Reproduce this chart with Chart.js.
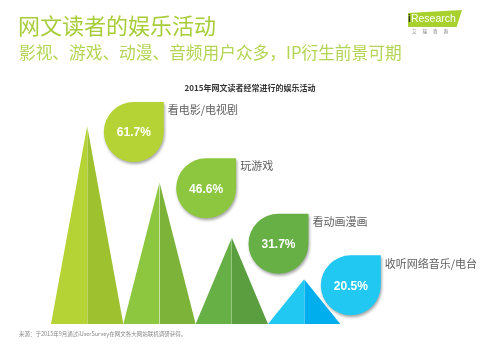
<!DOCTYPE html>
<html>
<head>
<meta charset="utf-8">
<script src="https://cdn.jsdelivr.net/npm/chart.js@4"></script>
<style>
  body { margin: 0; background: #fff; font-family: "Noto Sans CJK SC", "Liberation Sans", sans-serif; }
  #page { position: relative; width: 485px; height: 347px; overflow: hidden; }
  #chart { position: absolute; left: 0; top: 0; }
  .txt { position: absolute; white-space: nowrap; }
  #title { left: 18px; top: 13px; font-size: 22px; line-height: 22px; color: #a8cd3a; }
  #subtitle { left: 19px; top: 43px; font-size: 16.7px; line-height: 18px; color: #b3d455; }
  #chartTitle { left: 150px; width: 200px; top: 83px; text-align: center; font-size: 8px; line-height: 9px; font-weight: bold; color: #333; }
  #source { left: 19px; top: 331px; font-size: 5.5px; line-height: 6px; color: #888; }
  #logo { left: 408px; top: 10px; width: 54px; height: 17px; background: #a9d12e;
          clip-path: polygon(0 18%, 100% 0, 90% 100%, 0 100%); }
  #logoText { left: 408px; top: 12px; font-family: "Liberation Sans", sans-serif; font-size: 10.5px; line-height: 13px; color: #fff; }
  #logoText b { color: #333; font-weight: bold; }
  #logoCn { left: 412px; top: 29px; font-size: 4.5px; line-height: 5px; letter-spacing: 6px; color: #777; }
</style>
</head>
<body>
<div id="page">
  <canvas id="chart" width="485" height="347"></canvas>
  <div class="txt" id="title">网文读者的娱乐活动</div>
  <div class="txt" id="subtitle">影视、游戏、动漫、音频用户众多，IP衍生前景可期</div>
  <div class="txt" id="chartTitle">2015年网文读者经常进行的娱乐活动</div>
  <div class="txt" id="logo"></div>
  <div class="txt" id="logoText"><b>i</b>Research</div>
  <div class="txt" id="logoCn">艾瑞咨询</div>
  <div class="txt" id="source">来源：于2015年9月通过iUserSurvey在网文各大网站联机调研获得。</div>
</div>
<script>
// data
const categories = ['看电影/电视剧', '玩游戏', '看动画漫画', '收听网络音乐/电台'];
const shares = [61.7, 46.6, 31.7, 20.5];

const lightColors = ['#b5d334', '#8dc63f', '#66b046', '#20c8f2'];
const darkColors = ['#9ec12f', '#7db338', '#5a9e3f', '#00aeee'];

const Y_MIN = 8.5;
const Y_MAX = 68.7;

// each triangle is two filled halves, left light and right dark
let datasets = [];
shares.forEach((v, i) => {
  datasets.push({
    data: [{x: i - 0.5, y: Y_MIN}, {x: i, y: v}, {x: i, y: Y_MIN}],
    backgroundColor: lightColors[i],
    borderWidth: 0,
    pointRadius: 0,
    showLine: true,
    fill: 'start'
  });
  datasets.push({
    data: [{x: i, y: Y_MIN}, {x: i, y: v}, {x: i + 0.5, y: Y_MIN}],
    backgroundColor: darkColors[i],
    borderWidth: 0,
    pointRadius: 0,
    showLine: true,
    fill: 'start'
  });
});

// teardrop labels next to each triangle
const dropPlugin = {
  id: 'drops',
  afterDatasetsDraw(chart) {
    const ctx = chart.ctx;
    const xs = chart.scales.x;
    const ys = chart.scales.y;
    const r = 30;
    shares.forEach((v, i) => {
      const left = xs.getPixelForValue(i + 0.23);
      const top = ys.getPixelForValue(v) - 24;
      const cx = left + r, cy = top + r;

      ctx.save();
      ctx.shadowColor = 'rgba(0,0,0,0.35)';
      ctx.shadowBlur = 3;
      ctx.shadowOffsetX = 1;
      ctx.shadowOffsetY = 2;
      ctx.beginPath();
      ctx.moveTo(cx, top);
      ctx.lineTo(left + 2 * r, top);
      ctx.lineTo(left + 2 * r, cy);
      ctx.arc(cx, cy, r, 0, Math.PI * 1.5, false);
      ctx.closePath();
      ctx.fillStyle = lightColors[i];
      ctx.fill();
      ctx.restore();

      ctx.save();
      ctx.fillStyle = '#fff';
      ctx.font = 'bold 12px "Liberation Sans", Arial, sans-serif';
      ctx.textAlign = 'center';
      ctx.textBaseline = 'middle';
      ctx.fillText(v.toFixed(1) + '%', cx, cy + 1);

      ctx.fillStyle = '#5e5e5e';
      ctx.font = '11px "Noto Sans CJK SC", sans-serif';
      ctx.textAlign = 'left';
      ctx.fillText(categories[i], left + 2 * r + 4, top + 8);
      ctx.restore();
    });
  }
};

new Chart(document.getElementById('chart'), {
  type: 'scatter',
  data: { datasets: datasets },
  options: {
    responsive: false,
    animation: false,
    layout: { padding: { left: 51, right: 0, top: 100, bottom: 23 } },
    scales: {
      x: { type: 'linear', display: false, min: -0.5, max: 5.5 },
      y: { display: false, min: Y_MIN, max: Y_MAX }
    },
    plugins: {
      legend: { display: false },
      tooltip: { enabled: false },
      filler: { propagate: false }
    },
    elements: { line: { tension: 0 } }
  },
  plugins: [dropPlugin]
});
</script>
</body>
</html>
